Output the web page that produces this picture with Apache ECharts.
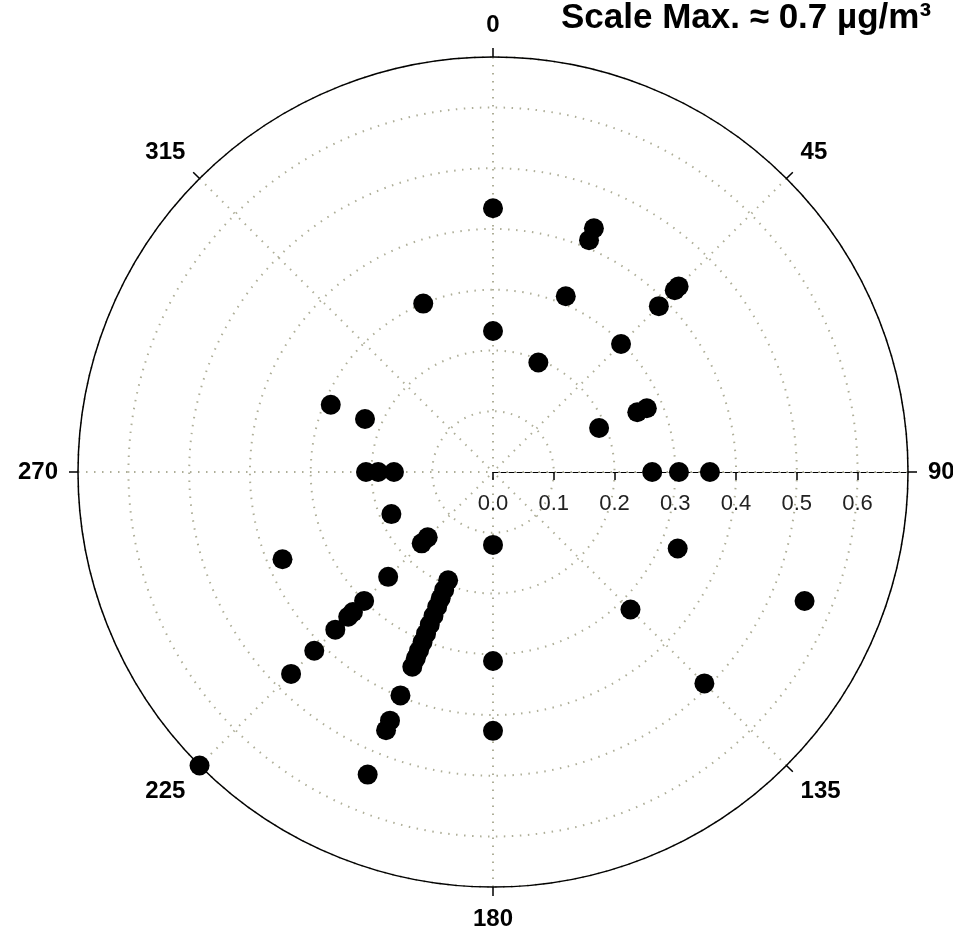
<!DOCTYPE html>
<html>
<head>
<meta charset="utf-8">
<script src="https://cdn.jsdelivr.net/npm/echarts@6/dist/echarts.min.js"></script>
<style>
html,body{margin:0;padding:0;background:#fff;}
#chart{width:953px;height:940px;}
</style>
</head>
<body>
<div id="chart"></div>
<script>
// Wind direction (compass degrees, clockwise from north)
const directions = [
  0, 0,
  22.5, 22.5, 22.5, 22.5,
  45, 45, 45, 45,
  67.5, 67.5, 67.5,
  90, 90, 90,
  112.5, 112.5,
  135, 135,
  180, 180, 180,
  202.5, 202.5, 202.5, 202.5, 202.5, 202.5, 202.5, 202.5, 202.5, 202.5, 202.5, 202.5, 202.5, 202.5, 202.5,
  225, 225, 225, 225, 225, 225, 225, 225, 225, 225,
  247.5, 247.5,
  270, 270, 270,
  292.5, 292.5,
  337.5
];
// Concentration (µg/m³)
const concentrations = [
  0.434, 0.232,
  0.434, 0.413, 0.313, 0.195,
  0.432, 0.423, 0.386, 0.298,
  0.257, 0.274, 0.189,
  0.262, 0.306, 0.357,
  0.329, 0.555,
  0.320, 0.492,
  0.120, 0.311, 0.426,
  0.539, 0.460, 0.443, 0.398, 0.347, 0.332, 0.318, 0.303, 0.288, 0.272, 0.256, 0.240, 0.225, 0.210, 0.193,
  0.683, 0.152, 0.166, 0.244, 0.300, 0.326, 0.337, 0.367, 0.416, 0.470,
  0.181, 0.375,
  0.209, 0.189, 0.163,
  0.228, 0.289,
  0.300
];
const radiusTicks = [0.0, 0.1, 0.2, 0.3, 0.4, 0.5, 0.6];
const radiusMax = 0.683;
const titleText = 'Scale Max. \u2248 0.7 \u00b5g/m\u00b3';

// angle axis starts at east (compass 90) so the radius axis lies along east
const toAxisAngle = d => ((d - 90) % 360 + 360) % 360;
const points = directions.map((d, i) => [concentrations[i], toAxisAngle(d)]);

const chart = echarts.init(document.getElementById('chart'), null, {renderer: 'canvas'});
const gridColor = '#aeae98';
chart.setOption({
  animation: false,
  backgroundColor: '#ffffff',
  title: {
    text: titleText,
    left: 556,
    top: -4,
    textStyle: {fontFamily: 'Liberation Sans, Arial, sans-serif', fontWeight: 'bold', fontSize: 35, color: '#000'}
  },
  polar: {center: [493, 472], radius: 415},
  angleAxis: {
    type: 'value',
    min: 0, max: 360, interval: 45,
    startAngle: 0,
    clockwise: true,
    axisLine: {show: true, lineStyle: {color: '#000', width: 1.5}},
    axisTick: {show: true, inside: false, length: 9, lineStyle: {color: '#000', width: 1.5}},
    axisLabel: {
      show: true, margin: 20,
      fontFamily: 'Liberation Sans, Arial, sans-serif', fontWeight: 'bold', fontSize: 24, color: '#000',
      formatter: v => String((v + 90) % 360)
    },
    splitLine: {show: true, lineStyle: {color: gridColor, width: 2, type: [1.5, 6.5]}}
  },
  radiusAxis: {
    type: 'value',
    min: 0, max: radiusMax, interval: 0.1,
    axisLine: {show: true, lineStyle: {color: '#000', width: 1, type: [5, 3]}},
    axisTick: {show: true, length: -8, lineStyle: {color: '#000', width: 1.5}},
    axisLabel: {
      show: true, margin: -43, showMaxLabel: false,
      fontFamily: 'Liberation Sans, Arial, sans-serif', fontSize: 22, color: '#222',
      formatter: v => (radiusTicks.some(t => Math.abs(t - v) < 1e-6) ? v.toFixed(1) : '')
    },
    splitLine: {show: true, lineStyle: {color: gridColor, width: 2, type: [1.5, 6.5]}}
  },
  series: [{
    type: 'scatter',
    coordinateSystem: 'polar',
    symbol: 'circle',
    symbolSize: 20,
    clip: false,
    itemStyle: {color: '#000', opacity: 1},
    data: points,
    z: 10
  }]
});
</script>
</body>
</html>
